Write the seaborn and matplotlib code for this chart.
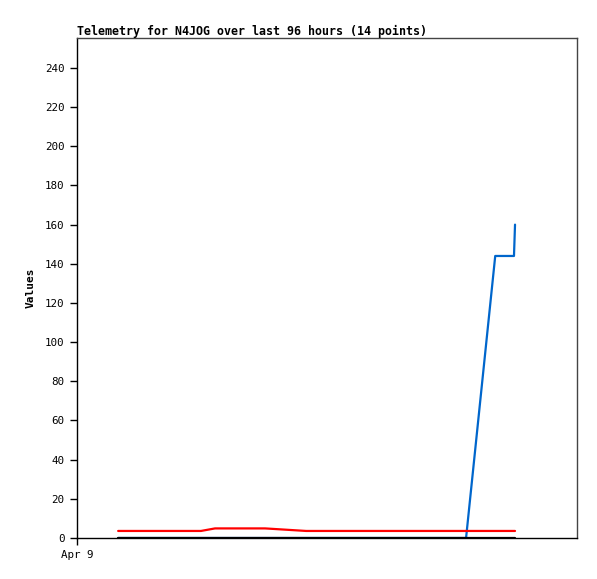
import numpy as np
import pandas as pd
import matplotlib
matplotlib.use("Agg")
import matplotlib.pyplot as plt
import seaborn as sns

# hours since Apr 9 00:00 (14 telemetry points)
hours = [7.9, 15.9, 23.8, 26.5, 36.1, 44.0, 52.4, 62.0, 69.7, 74.7, 80.3, 82.2, 83.9, 84.1]
ch_red = [3.6, 3.6, 3.6, 4.9, 4.9, 3.6, 3.6, 3.6, 3.6, 3.6, 3.6, 3.6, 3.6, 3.6]
ch_blue = [0, 0, 0, 0, 0, 0, 0, 0, 0, 0, 144, 144, 144, 160]
ch_black = [0] * 14

title = "Telemetry for N4JOG over last 96 hours (14 points)"
xtick_labels = ["Apr 9"]

df = pd.DataFrame({
    "hour": hours * 3,
    "value": ch_blue + ch_red + ch_black,
    "series": ["blue"] * 14 + ["red"] * 14 + ["black"] * 14,
})

sns.set_style("white")
plt.rcParams["font.family"] = ["DejaVu Sans Mono"]
plt.rcParams["text.color"] = "black"
plt.rcParams["axes.labelcolor"] = "black"

fig = plt.figure(figsize=(5.97, 5.79), dpi=100)
ax = fig.add_axes([0.129, 0.0708, 0.8375, 0.8636])

sns.lineplot(data=df, x="hour", y="value", hue="series",
             palette={"blue": "#0066cc", "red": "#ff0000", "black": "#000000"},
             linewidth=1.6, legend=False, ax=ax, estimator=None, sort=False)

ax.set_xlim(0, 96)
ax.set_ylim(0, 255.3)
ax.set_yticks(np.arange(0, 241, 20))
ax.set_xticks([0])
ax.set_xticklabels(xtick_labels)
ax.tick_params(axis="both", direction="out", length=5, width=1, labelsize=7.8,
               bottom=True, left=True, colors="black")
ax.tick_params(axis="y", pad=4)
ax.set_xlabel("")
ax.set_ylabel("Values", fontsize=8, fontweight="bold", labelpad=7, color="black")
ax.set_title(title, loc="left", fontsize=8.35, fontweight="bold", pad=2, color="black")

for side in ["left", "bottom"]:
    ax.spines[side].set_color("black")
    ax.spines[side].set_linewidth(1)
for side in ["top", "right"]:
    ax.spines[side].set_color("#444444")
    ax.spines[side].set_linewidth(1)

fig.savefig("out.png", dpi=100)
